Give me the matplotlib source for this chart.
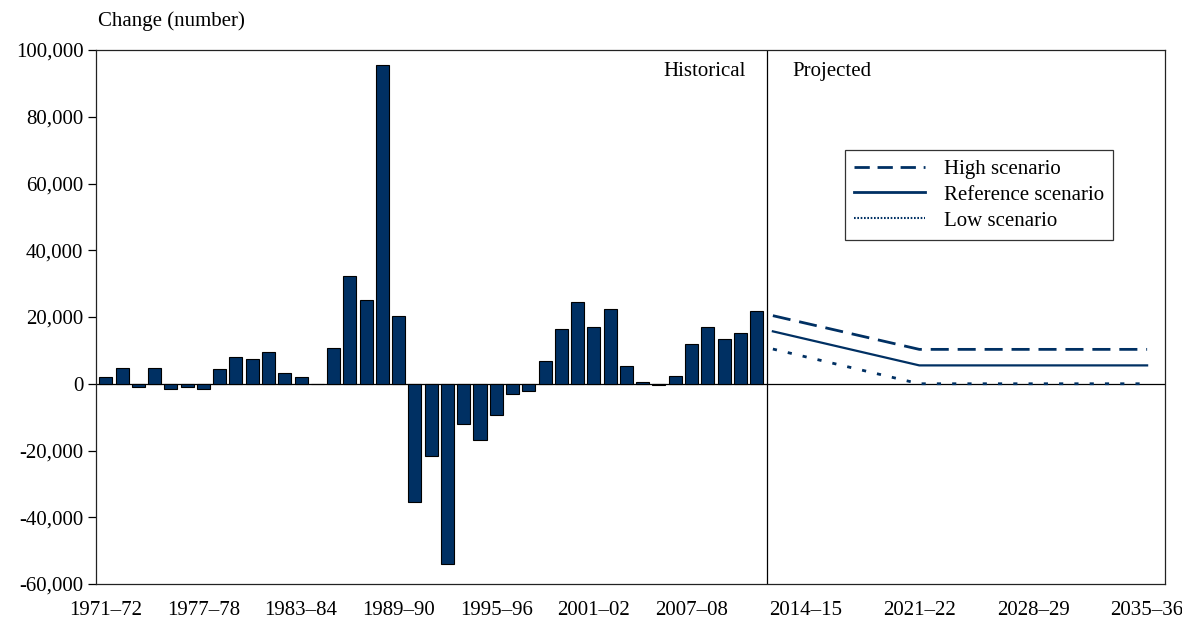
import numpy as np
import matplotlib
matplotlib.use('Agg')
import matplotlib.pyplot as plt
from matplotlib.lines import Line2D

plt.rcParams['font.family'] = ['Liberation Serif', 'DejaVu Serif']
plt.rcParams['font.size'] = 15

# financial years 1971-72 .. 2035-36
periods = ['%d–%02d' % (y, (y + 1) % 100) for y in range(1971, 2036)]

# historical annual change, 1971-72 to 2011-12
hist_periods = periods[:41]
hist_values = [2000, 4600, -1100, 4600, -1500, -1100, -1500, 4300, 8000, 7300,
               9600, 3100, 2000, 0, 10700, 32400, 25000, 95500, 20300, -35300,
               -21500, -53900, -12000, -16900, -9300, -3000, -2300, 6900, 16300, 24500,
               17000, 22300, 5400, 600, -400, 2400, 11800, 17000, 13300, 15200,
               21900]

# projections (vertices of the scenario lines)
proj_periods = ['2012–13', '2021–22', '2035–36']
high_values = [20400, 10300, 10300]
ref_values = [15700, 5500, 5500]
low_values = [10400, 0, 0]

tick_labels = ['1971–72', '1977–78', '1983–84', '1989–90', '1995–96', '2001–02',
               '2007–08', '2014–15', '2021–22', '2028–29', '2035–36']

navy = '#003063'

fig = plt.figure(figsize=(11.82, 6.22), dpi=100)
ax = fig.add_axes([96 / 1182, 1 - 584 / 622, (1165 - 96) / 1182, (584 - 50) / 622])

pos = {p: i for i, p in enumerate(periods)}
hx = [pos[p] for p in hist_periods]
px = [pos[p] for p in proj_periods]

ax.bar(hx, hist_values, width=0.8, color=navy, edgecolor='black', linewidth=0.8, zorder=2)

ax.plot(px, high_values, color=navy, lw=2, dashes=(6.5, 3.2), zorder=3)
ax.plot(px, ref_values, color=navy, lw=1.6, zorder=3)
ax.plot(px, low_values, color=navy, lw=2, dashes=(1.5, 4), zorder=3)

ax.axhline(0, color='black', lw=0.9, zorder=1)
ax.axvline(40.65, color='black', lw=0.9, zorder=1)

ax.set_xlim(-0.6, 65.1)
ax.set_ylim(-60000, 100000)
ax.set_yticks(np.arange(-60000, 100001, 20000))
ax.yaxis.set_major_formatter(plt.FuncFormatter(lambda v, _: '{:,.0f}'.format(v).replace('−', '-')))
ax.set_xticks([pos[t] for t in tick_labels])
ax.set_xticklabels(tick_labels)
ax.tick_params(axis='x', length=0, pad=12)
ax.tick_params(axis='y', length=6, width=0.9, pad=3)
for s in ax.spines.values():
    s.set_linewidth(0.9)
    s.set_color('#222222')

ax.text(0.002, 1.035, 'Change (number)', transform=ax.transAxes, ha='left', va='bottom')
ax.text(39.35, 93500, 'Historical', ha='right', va='center')
ax.text(42.2, 93500, 'Projected', ha='left', va='center')

handles = [
    Line2D([], [], color=navy, lw=2, dashes=(5.5, 2.8)),
    Line2D([], [], color=navy, lw=2),
    Line2D([], [], color=navy, lw=1.5, dashes=(0.8, 0.8)),
]
leg = ax.legend(handles, ['High scenario', 'Reference scenario', 'Low scenario'],
                loc='upper left', bbox_to_anchor=(845 / 1182, 1 - 150 / 622),
                bbox_transform=fig.transFigure, borderaxespad=0, frameon=True,
                fancybox=False, edgecolor='black', handlelength=3.4,
                labelspacing=0.3, handletextpad=0.9, borderpad=0.45)
leg.get_frame().set_linewidth(0.9)

fig.savefig('out.png', dpi=100)
